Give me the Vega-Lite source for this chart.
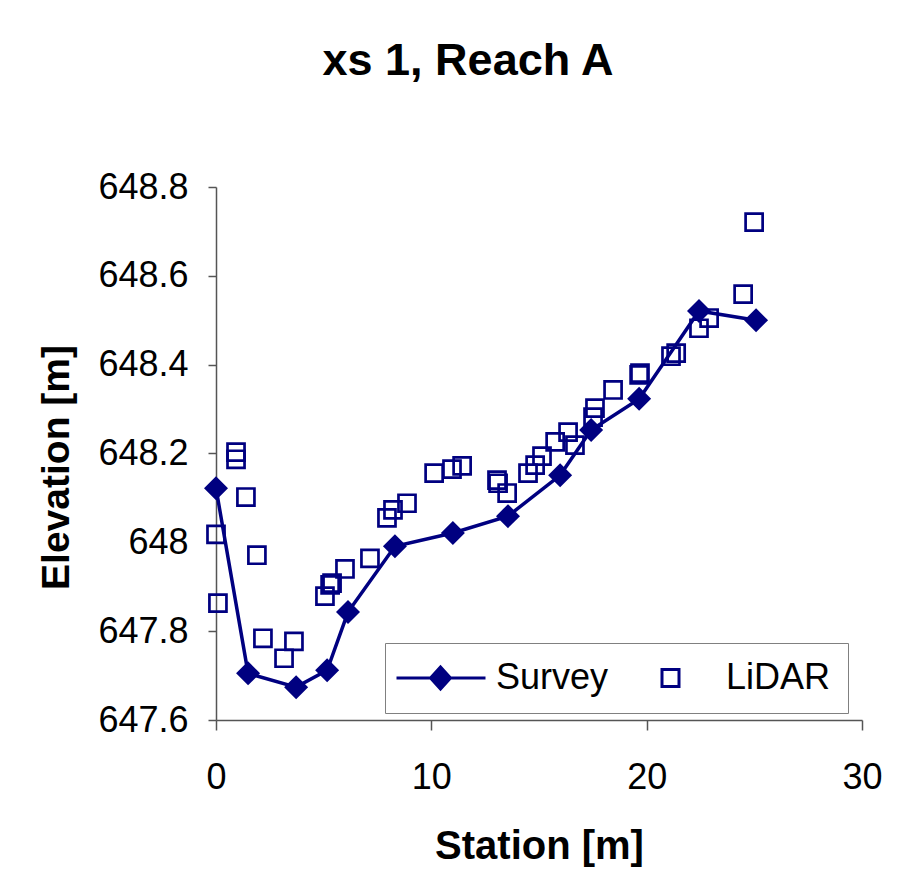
{
  "$schema": "https://vega.github.io/schema/vega-lite/v6.json",
  "width": 646,
  "height": 533,
  "autosize": {"type": "none"},
  "padding": {"left": 216, "top": 187, "right": 57, "bottom": 162},
  "background": "white",
  "title": {
    "text": "xs 1, Reach A",
    "fontSize": 45,
    "font": "Liberation Sans",
    "fontWeight": "bold",
    "color": "black",
    "anchor": "middle",
    "baseline": "alphabetic",
    "dx": -71,
    "offset": 49
  },
  "config": {
    "view": {"stroke": null},
    "font": "Liberation Sans"
  },
  "data": {
    "values": [
      {"series": "Survey", "station": 0.0, "elevation": 648.122},
      {"series": "Survey", "station": 1.49, "elevation": 647.705},
      {"series": "Survey", "station": 3.72, "elevation": 647.674},
      {"series": "Survey", "station": 5.16, "elevation": 647.712},
      {"series": "Survey", "station": 6.13, "elevation": 647.843},
      {"series": "Survey", "station": 8.31, "elevation": 647.991},
      {"series": "Survey", "station": 11.0, "elevation": 648.021},
      {"series": "Survey", "station": 13.56, "elevation": 648.059},
      {"series": "Survey", "station": 15.98, "elevation": 648.151},
      {"series": "Survey", "station": 17.42, "elevation": 648.253},
      {"series": "Survey", "station": 19.65, "elevation": 648.323},
      {"series": "Survey", "station": 22.43, "elevation": 648.521},
      {"series": "Survey", "station": 25.08, "elevation": 648.5},
      {"series": "LiDAR", "station": 0.93, "elevation": 648.203},
      {"series": "LiDAR", "station": 0.93, "elevation": 648.187},
      {"series": "LiDAR", "station": 0.0, "elevation": 648.018},
      {"series": "LiDAR", "station": 0.09, "elevation": 647.863},
      {"series": "LiDAR", "station": 1.39, "elevation": 648.102},
      {"series": "LiDAR", "station": 1.9, "elevation": 647.971},
      {"series": "LiDAR", "station": 2.18, "elevation": 647.784},
      {"series": "LiDAR", "station": 3.16, "elevation": 647.739},
      {"series": "LiDAR", "station": 3.62, "elevation": 647.777},
      {"series": "LiDAR", "station": 5.06, "elevation": 647.879},
      {"series": "LiDAR", "station": 5.3, "elevation": 647.904},
      {"series": "LiDAR", "station": 5.39, "elevation": 647.908},
      {"series": "LiDAR", "station": 5.99, "elevation": 647.94},
      {"series": "LiDAR", "station": 7.15, "elevation": 647.964},
      {"series": "LiDAR", "station": 7.94, "elevation": 648.055},
      {"series": "LiDAR", "station": 8.22, "elevation": 648.073},
      {"series": "LiDAR", "station": 8.87, "elevation": 648.088},
      {"series": "LiDAR", "station": 10.13, "elevation": 648.156},
      {"series": "LiDAR", "station": 10.96, "elevation": 648.165},
      {"series": "LiDAR", "station": 11.43, "elevation": 648.172},
      {"series": "LiDAR", "station": 13.05, "elevation": 648.14},
      {"series": "LiDAR", "station": 13.1, "elevation": 648.133},
      {"series": "LiDAR", "station": 13.52, "elevation": 648.111},
      {"series": "LiDAR", "station": 14.49, "elevation": 648.156},
      {"series": "LiDAR", "station": 14.82, "elevation": 648.174},
      {"series": "LiDAR", "station": 15.14, "elevation": 648.194},
      {"series": "LiDAR", "station": 15.75, "elevation": 648.226},
      {"series": "LiDAR", "station": 16.35, "elevation": 648.248},
      {"series": "LiDAR", "station": 16.67, "elevation": 648.219},
      {"series": "LiDAR", "station": 17.51, "elevation": 648.282},
      {"series": "LiDAR", "station": 17.6, "elevation": 648.302},
      {"series": "LiDAR", "station": 18.44, "elevation": 648.343},
      {"series": "LiDAR", "station": 19.65, "elevation": 648.377},
      {"series": "LiDAR", "station": 19.69, "elevation": 648.381},
      {"series": "LiDAR", "station": 21.13, "elevation": 648.419},
      {"series": "LiDAR", "station": 21.37, "elevation": 648.426},
      {"series": "LiDAR", "station": 22.43, "elevation": 648.482},
      {"series": "LiDAR", "station": 22.9, "elevation": 648.505},
      {"series": "LiDAR", "station": 24.48, "elevation": 648.559},
      {"series": "LiDAR", "station": 24.99, "elevation": 648.721}
    ]
  },
  "encoding": {
    "x": {
      "field": "station",
      "type": "quantitative",
      "scale": {"domain": [0, 30], "nice": false, "zero": false},
      "axis": {
        "values": [0, 10, 20, 30],
        "grid": false,
        "domainColor": "#555555",
        "domainWidth": 1.5,
        "tickColor": "#555555",
        "tickWidth": 1.5,
        "tickSize": 10,
        "labelFontSize": 36,
        "labelColor": "black",
        "labelPadding": 30,
        "labelFlush": false,
        "labelOverlap": false,
        "title": "Station [m]",
        "titleFontSize": 40,
        "titleFontWeight": "bold",
        "titleColor": "black",
        "titleX": 323,
        "titleY": 138,
        "titleBaseline": "alphabetic"
      }
    },
    "y": {
      "field": "elevation",
      "type": "quantitative",
      "scale": {"domain": [647.6, 648.8], "nice": false, "zero": false},
      "axis": {
        "values": [647.6, 647.8, 648, 648.2, 648.4, 648.6, 648.8],
        "format": "~g",
        "grid": false,
        "domainColor": "#555555",
        "domainWidth": 1.5,
        "tickColor": "#555555",
        "tickWidth": 1.5,
        "tickSize": 8,
        "labelFontSize": 36,
        "labelColor": "black",
        "labelPadding": 20,
        "labelFlush": false,
        "labelOverlap": false,
        "title": "Elevation [m]",
        "titleFontSize": 39,
        "titleFontWeight": "bold",
        "titleColor": "black",
        "titleX": -148,
        "titleY": 280,
        "titleBaseline": "alphabetic"
      }
    }
  },
  "layer": [
    {
      "transform": [{"filter": "datum.series === 'Survey'"}],
      "mark": {"type": "line", "color": "#000080", "strokeWidth": 3.5}
    },
    {
      "transform": [{"filter": "datum.series === 'Survey'"}],
      "mark": {"type": "point", "shape": "diamond", "filled": true, "fill": "#000080", "color": "#000080", "size": 576, "opacity": 1, "strokeWidth": 0}
    },
    {
      "transform": [{"filter": "datum.series === 'LiDAR'"}],
      "mark": {"type": "point", "shape": "square", "filled": false, "fill": "transparent", "stroke": "#000080", "strokeWidth": 2.7, "size": 290, "opacity": 1}
    },
    {
      "transform": [{"filter": "false"}],
      "mark": {"type": "point", "filled": true, "color": "#000080", "strokeWidth": 3, "opacity": 1},
      "encoding": {
        "shape": {
          "field": "series",
          "type": "nominal",
          "scale": {
            "domain": ["Survey", "LiDAR"],
            "range": ["M-2.35,0L6.55,0M1.05,0L2.05,-1.1L3.05,0L2.05,1.1Z", "M1.2,-0.85L2.9,-0.85L2.9,0.85L1.2,0.85Z"]
          },
          "legend": {
            "title": null,
            "orient": "none",
            "direction": "horizontal",
            "legendX": 169,
            "legendY": 456,
            "padding": 17,
            "strokeColor": "#808080",
            "fillColor": "white",
            "labelFontSize": 36,
            "labelColor": "black",
            "labelFont": "Liberation Sans",
            "labelOffset": 58,
            "columnPadding": 23,
            "symbolSize": 400,
            "symbolStrokeWidth": 3,
            "symbolOpacity": 1
          }
        },
        "fill": {
          "field": "series",
          "type": "nominal",
          "scale": {"domain": ["Survey", "LiDAR"], "range": ["#000080", "transparent"]},
          "legend": {
            "title": null,
            "orient": "none",
            "direction": "horizontal",
            "legendX": 169,
            "legendY": 456,
            "padding": 17,
            "strokeColor": "#808080",
            "fillColor": "white",
            "labelFontSize": 36,
            "labelColor": "black",
            "labelFont": "Liberation Sans",
            "labelOffset": 58,
            "columnPadding": 23,
            "symbolSize": 400,
            "symbolStrokeWidth": 3,
            "symbolOpacity": 1
          }
        },
        "stroke": {
          "field": "series",
          "type": "nominal",
          "scale": {"domain": ["Survey", "LiDAR"], "range": ["#000080", "#000080"]},
          "legend": {
            "title": null,
            "orient": "none",
            "direction": "horizontal",
            "legendX": 169,
            "legendY": 456,
            "padding": 17,
            "strokeColor": "#808080",
            "fillColor": "white",
            "labelFontSize": 36,
            "labelColor": "black",
            "labelFont": "Liberation Sans",
            "labelOffset": 58,
            "columnPadding": 23,
            "symbolSize": 400,
            "symbolStrokeWidth": 3,
            "symbolOpacity": 1
          }
        }
      }
    }
  ]
}
